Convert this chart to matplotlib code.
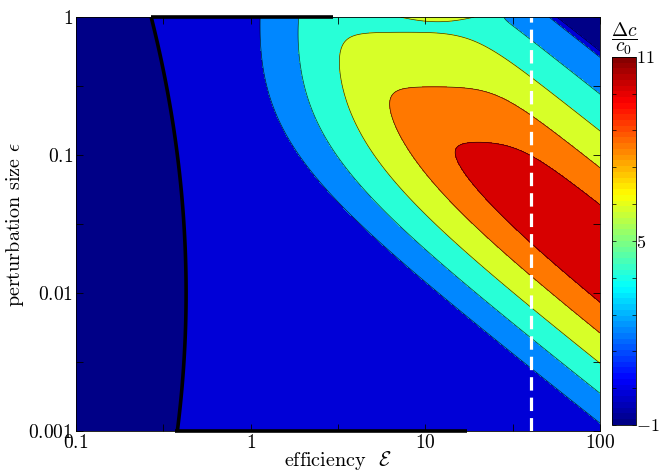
import numpy as np
import matplotlib
matplotlib.use("Agg")
import matplotlib.pyplot as plt
from matplotlib.colors import ListedColormap, Normalize
from matplotlib.cm import ScalarMappable
from matplotlib.ticker import NullFormatter

plt.rcParams['mathtext.fontset'] = 'cm'
plt.rcParams['font.family'] = 'serif'
plt.rcParams['font.serif'] = ['cmr10', 'DejaVu Serif']
plt.rcParams['axes.unicode_minus'] = False

# axes / ticks
x_ticks = [0.1, 1, 10, 100]
x_tick_labels = ['0.1', '1', '10', '100']
x_minor = [0.316, 3.16, 31.6]
y_ticks = [0.001, 0.01, 0.1, 1]
y_tick_labels = ['0.001', '0.01', '0.1', '1']
y_minor = [0.00316, 0.0316, 0.316]

# contour levels of dc/c0 and colour range
levels = [-1, 0, 2, 4, 6, 8, 10, 20]
c_min, c_max = -1, 11
cbar_ticks = [-1, 0.2, 1.4, 2.6, 3.8, 5, 6.2, 7.4, 8.6, 9.8, 11]
cbar_labels = {-1: r'$-1$', 5: r'$5$', 11: r'$11$'}

# extra lines
E_marker = 40.0
top_edge_E = [0.27, 2.95]
bottom_edge_E = [0.37, 17.2]

# shape of the dc/c0 surface (log10 units)
rise_z0, rise_slope = 10.8, 9.3      # lower flank, vs log10(E*eps)
eps_shift_k, eps_shift_p = 9.0, 1.13 # lower flank shift at large eps
fall_z0, fall_slope = 14.8, 7.5      # upper flank, vs log10(E*eps)
cap_z0, cap_slope = 5.44, 5.08       # ridge height vs log10(eps)
cliff_s, cliff_slope = 1.752, 70.0   # drop in the upper right corner
zero_a, zero_curv, zero_b = -0.37, 0.05, -2.0  # zero contour position
strip_h, strip_a, strip_w, strip_d = 2.5, 1.1, 0.2, 0.02


def softmin(t, *fields):
    st = np.stack([-f / t for f in fields])
    m = st.max(axis=0)
    return -t * (m + np.log(np.exp(st - m).sum(axis=0)))


def softmax(t, *fields):
    return -softmin(t, *[-f for f in fields])


def matlab_jet(n=64):
    t = (np.arange(n) + 0.5) / n
    r = np.clip(1.5 - np.abs(4 * t - 3), 0, 1)
    g = np.clip(1.5 - np.abs(4 * t - 2), 0, 1)
    b = np.clip(1.5 - np.abs(4 * t - 1), 0, 1)
    return ListedColormap(np.column_stack([r, g, b]))


E = np.logspace(-1, 2, 700)
eps = np.logspace(-3, 0, 700)
EE, PP = np.meshgrid(E, eps)
a = np.log10(EE)
b = np.log10(PP)
s = a + b

w = s - np.log10(1 + eps_shift_k * PP ** eps_shift_p)
rise = rise_z0 + rise_slope * w
fall = fall_z0 - fall_slope * s
cap = cap_z0 - cap_slope * b
bump = softmin(0.6, rise, fall, cap)

a0 = zero_a - zero_curv * (b - zero_b) ** 2
base = -1 + 2 / (1 + np.exp(-(a - a0) / 0.1))

Z = softmax(0.2, base, bump)
Z = softmin(0.15, Z, cliff_slope * (cliff_s - s))
Z = Z + strip_h * np.exp(b / strip_d) * np.exp(-((a - strip_a) / strip_w) ** 2)
Z = np.clip(Z, -0.999, None)

cmap = matlab_jet(64)
norm = Normalize(c_min, c_max)
band_colors = [cmap(norm(l)) for l in levels[:-1]]

fig = plt.figure(figsize=(6.61, 4.72), dpi=100)
ax = fig.add_axes([0.115, 0.087, 0.793, 0.877])
cax = fig.add_axes([0.926, 0.0996, 0.036, 0.78])

ax.contourf(EE, PP, Z, levels=levels, colors=band_colors)
ax.contour(EE, PP, Z, levels=levels[1:-1], colors='k', linewidths=0.5, alpha=0.8)
# thick zero line only for the left boundary
ax.contour(EE, PP, base, levels=[0], colors='k', linewidths=2.6)
ax.plot(top_edge_E, [1, 1], color='k', lw=2.6, clip_on=False, solid_capstyle='butt')
ax.plot(bottom_edge_E, [0.001, 0.001], color='k', lw=2.6, clip_on=False, solid_capstyle='butt')
ax.axvline(E_marker, color='w', lw=2.3, ls=(0, (4.2, 2.2)))

ax.set_xscale('log')
ax.set_yscale('log')
ax.set_xlim(0.1, 100)
ax.set_ylim(0.001, 1)
ax.set_xticks(x_ticks)
ax.set_xticklabels(['$' + t + '$' for t in x_tick_labels])
ax.set_xticks(x_minor, minor=True)
ax.set_yticks(y_ticks)
ax.set_yticklabels(['$' + t + '$' for t in y_tick_labels])
ax.set_yticks(y_minor, minor=True)
ax.xaxis.set_minor_formatter(NullFormatter())
ax.yaxis.set_minor_formatter(NullFormatter())
ax.tick_params(which='both', direction='in', top=True, right=True,
               length=5, width=0.6, labelsize=14, pad=2)
for sp in ax.spines.values():
    sp.set_linewidth(0.6)

ax.set_xlabel(r'efficiency  $\mathcal{E}$', fontsize=14.5, labelpad=-2)
ax.set_ylabel(r'perturbation size $\epsilon$', fontsize=14.5, labelpad=2)

sm = ScalarMappable(norm=norm, cmap=cmap)
cbar = fig.colorbar(sm, cax=cax, ticks=cbar_ticks)
cbar.ax.set_yticklabels([cbar_labels.get(round(t, 1), '') for t in cbar_ticks])
cbar.ax.tick_params(direction='in', left=True, right=True, length=3,
                    width=0.5, labelsize=13, pad=0)
cbar.outline.set_linewidth(0.6)
cax.set_title(r'$\dfrac{\Delta c}{c_0}$', fontsize=14, pad=3)

fig.savefig('out.png', dpi=100)
